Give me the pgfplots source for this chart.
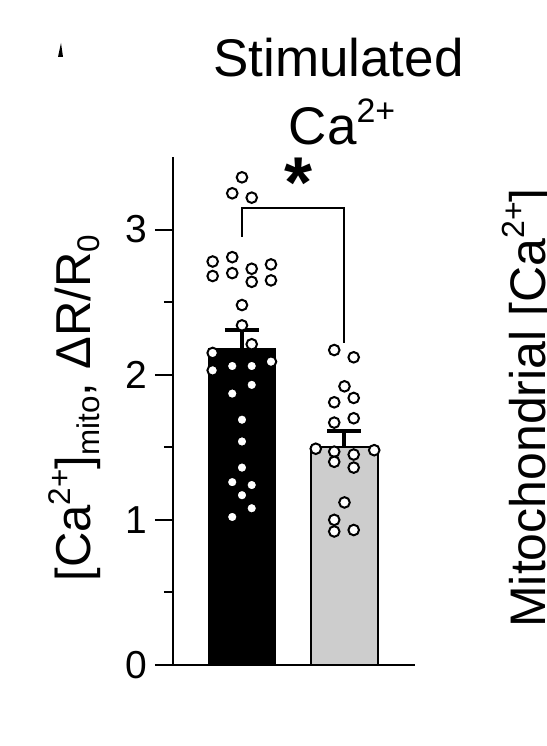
\documentclass[border=0pt]{standalone}
\usepackage{fontspec}
\setmainfont{Liberation Sans}
\usepackage{pgfplots}
\pgfplotsset{compat=1.18}
\definecolor{bargray}{RGB}{205,205,205}
\newcommand{\sups}[1]{\raisebox{0.42em}{\scalebox{0.64}{#1}}}
\newcommand{\subs}[1]{\raisebox{-0.18em}{\scalebox{0.64}{#1}}}

\begin{document}
\begin{tikzpicture}
\useasboundingbox (0,0) rectangle (273.5pt,373pt);
\begin{axis}[
  scale only axis, width=121pt, height=254pt,
  at={(86.5pt,40.5pt)}, anchor=south west,
  xmin=0.327, xmax=2.688, ymin=0, ymax=3.5,
  axis x line*=bottom, axis y line*=left,
  axis line style={line width=1pt,-},
  xtick=\empty,
  ytick={0,1,2,3}, minor ytick={0.5,1.5,2.5},
  tick align=outside, tick style={line width=1pt, black},
  major tick length=9pt, minor tick length=4.5pt,
  yticklabel style={font=\fontsize{19.5}{19.5}\selectfont, inner sep=0pt, xshift=-3.5pt},
  /pgf/number format/assume math mode=true,
  clip=false,
]
% means with SEM
\addplot[ybar, bar shift=0pt, bar width=0.65, fill=black, draw=black, line width=1pt,
  error bars/.cd, y dir=plus, y explicit,
  error bar style={line width=2pt, black},
  error mark options={rotate=90, mark size=8.5pt, line width=2pt, black}]
  coordinates {(1,2.18) +- (0,0.125)};
\addplot[ybar, bar shift=0pt, bar width=0.65, fill=bargray, draw=black, line width=1pt,
  error bars/.cd, y dir=plus, y explicit,
  error bar style={line width=2pt, black},
  error mark options={rotate=90, mark size=8.5pt, line width=2pt, black}]
  coordinates {(2,1.50) +- (0,0.11)};
% single cells
\addplot[only marks, mark=*, mark size=2.65pt, mark options={fill=white, draw=black, line width=1pt}]
  coordinates {
  (1.0,3.36) (0.905,3.25) (1.095,3.22)
  (0.714,2.78) (0.905,2.81) (1.283,2.76)
  (0.714,2.68) (0.905,2.70) (1.095,2.73) (1.095,2.64) (1.283,2.65)
  (1.0,2.48) (1.0,2.34) (1.095,2.21) (0.714,2.15) (1.283,2.09)
  (0.714,2.03) (0.905,2.06) (1.095,2.06) (1.095,1.93) (0.905,1.87)
  (1.0,1.69) (1.0,1.54) (1.0,1.36) (0.905,1.26) (1.095,1.24)
  (1.0,1.17) (1.095,1.08) (0.905,1.02)
  };
\addplot[only marks, mark=*, mark size=2.65pt, mark options={fill=white, draw=black, line width=1pt}]
  coordinates {
  (1.90,2.17) (2.09,2.12) (2.0,1.92) (2.09,1.84) (1.90,1.81)
  (1.90,1.67) (2.09,1.70) (1.72,1.49) (1.90,1.47) (2.09,1.45)
  (2.29,1.48) (1.90,1.40) (2.09,1.36) (2.0,1.12) (1.90,1.00)
  (2.09,0.93) (1.90,0.92)
  };
\draw[line width=1pt] (axis cs:1,2.95) -- (axis cs:1,3.15) -- (axis cs:2,3.15) -- (axis cs:2,2.22);
\node[font=\fontsize{36}{36}\selectfont\bfseries, anchor=base, inner sep=0pt] at (axis cs:1.556,3.155) {*};
\end{axis}
\node[font=\fontsize{26.5}{26.5}\selectfont, anchor=base, inner sep=0pt] at (169.25pt,334.5pt) {Stimulated};
\node[font=\fontsize{26.5}{26.5}\selectfont, anchor=base, inner sep=0pt] at (171pt,300.5pt) {Ca\sups{2+}};
\node[rotate=90, anchor=base, inner sep=0pt, font=\fontsize{24.5}{24.5}\selectfont] at (45.5pt,169pt) {[Ca\sups{2+}]\subs{mito}, ΔR/R\subs{0}};
\node[rotate=90, anchor=base, inner sep=0pt, font=\fontsize{25}{25}\selectfont] at (272.5pt,169pt) {Mitochondrial [Ca\sups{2+}]};
\fill (29pt,344.5pt) -- (31.5pt,344.5pt) -- (30.5pt,351.5pt) -- cycle;
\end{tikzpicture}
\end{document}
